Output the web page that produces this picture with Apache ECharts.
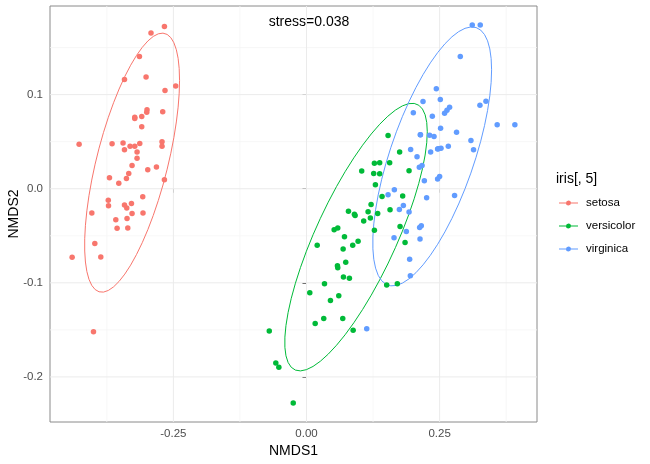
<!DOCTYPE html>
<html>
<head>
<meta charset="utf-8">
<script src="https://cdn.jsdelivr.net/npm/echarts@6/dist/echarts.min.js"></script>
<style>html,body{margin:0;padding:0;background:#fff}#c{width:650px;height:464px}</style>
</head>
<body>
<div id="c"></div>
<script>
// ---- data (NMDS1, NMDS2) ----
const groups = ['setosa', 'versicolor', 'virginica'];
const setosa = [
 [-0.2668,0.1724],[-0.2920,0.1656],[-0.3137,0.1404],[-0.3418,0.1162],[-0.3013,0.1187],
 [-0.2657,0.1045],[-0.2456,0.1091],[-0.3225,0.0760],[-0.3225,0.0746],[-0.3094,0.0768],
 [-0.2995,0.0839],[-0.3000,0.0813],[-0.2700,0.0818],[-0.3094,0.0658],[-0.4270,0.0472],
 [-0.3651,0.0477],[-0.3445,0.0487],[-0.3131,0.0480],[-0.3418,0.0413],[-0.3313,0.0451],
 [-0.3225,0.0451],[-0.3182,0.0391],[-0.2713,0.0498],[-0.2713,0.0451],[-0.3182,0.0323],
 [-0.3276,0.0248],[-0.2981,0.0203],[-0.2818,0.0231],[-0.3700,0.0117],[-0.3338,0.0163],
 [-0.3381,0.0110],[-0.3525,0.0057],[-0.2668,0.0096],[-0.3075,-0.0085],[-0.3722,-0.0123],
 [-0.3718,-0.0181],[-0.3418,-0.0174],[-0.3375,-0.0206],[-0.3287,-0.0157],[-0.4031,-0.0259],
 [-0.3276,-0.0263],[-0.3070,-0.0259],[-0.3581,-0.0330],[-0.3370,-0.0317],[-0.3557,-0.0419],
 [-0.3356,-0.0416],[-0.3975,-0.0583],[-0.4401,-0.0728],[-0.3863,-0.0725],[-0.4000,-0.1521]
];
const versicolor = [
 [0.1532,0.0565],[0.1749,0.0391],[0.1275,0.0270],[0.1374,0.0277],[0.1562,0.0277],
 [0.1037,0.0189],[0.1262,0.0163],[0.1374,0.0160],[0.1926,0.0192],[0.1294,0.0043],
 [0.1419,-0.0082],[0.1806,-0.0078],[0.0788,-0.0238],[0.0900,-0.0270],[0.0913,-0.0285],
 [0.1157,-0.0245],[0.1213,-0.0167],[0.1337,-0.0263],[0.1569,-0.0224],[0.1074,-0.0344],
 [0.1200,-0.0312],[0.1757,-0.0402],[0.1275,-0.0440],[0.0519,-0.0437],[0.0587,-0.0416],
 [0.0713,-0.0509],[0.0969,-0.0558],[0.0868,-0.0600],[0.0201,-0.0600],[0.0688,-0.0640],
 [0.1851,-0.0572],[0.0737,-0.0781],[0.0581,-0.0818],[0.0587,-0.0839],[0.0694,-0.0938],
 [0.0806,-0.0952],[0.0338,-0.1010],[0.1506,-0.1023],[0.1706,-0.1010],[0.0062,-0.1106],
 [0.0450,-0.1187],[0.0606,-0.1138],[0.0163,-0.1432],[0.0324,-0.1378],[0.0681,-0.1378],
 [0.0876,-0.1503],[-0.0699,-0.1511],[-0.0576,-0.1852],[-0.0519,-0.1898],[-0.0249,-0.2278]
];
const virginica = [
 [0.3113,0.1741],[0.3263,0.1741],[0.2888,0.1404],[0.2438,0.1063],[0.2188,0.0928],
 [0.2513,0.0949],[0.2687,0.0867],[0.2638,0.0835],[0.2593,0.0803],[0.3257,0.0888],
 [0.3370,0.0931],[0.2006,0.0807],[0.2363,0.0771],[0.2518,0.0643],[0.2818,0.0600],
 [0.3581,0.0679],[0.3913,0.0679],[0.2138,0.0573],[0.2312,0.0568],[0.2395,0.0554],
 [0.3088,0.0512],[0.3137,0.0413],[0.1956,0.0416],[0.2331,0.0391],[0.2462,0.0423],
 [0.2526,0.0430],[0.2663,0.0451],[0.2076,0.0341],[0.2170,0.0248],[0.2119,0.0227],
 [0.2213,0.0085],[0.2500,0.0131],[0.2462,0.0103],[0.2781,-0.0071],[0.1650,-0.0011],
 [0.1532,-0.0064],[0.2256,-0.0096],[0.1819,-0.0178],[0.1744,-0.0221],[0.1926,-0.0248],
 [0.2156,-0.0394],[0.2125,-0.0413],[0.1644,-0.0522],[0.2132,-0.0533],[0.1937,-0.0749],
 [0.1950,-0.0924],[0.1875,-0.0455],[0.1131,-0.1489],[0.2475,0.0425],[0.2140,0.0575]
];
const xTicks = [-0.25, 0, 0.25];
const xMinor = [-0.375, -0.125, 0.125, 0.375];
const yTicks = [-0.2, -0.1, 0, 0.1];
const yMinor = [-0.15, -0.05, 0.05, 0.15];
const stressLabel = 'stress=0.038';
const legendTitle = 'iris[, 5]';
const colors = ['#F8766D', '#00BA38', '#619CFF'];

// ---- stat_ellipse (type "t", level 0.95) ----
function covTrob(pts, nu) {
  const n = pts.length, p = 2;
  let loc = [0,0];
  pts.forEach(q => { loc[0] += q[0]/n; loc[1] += q[1]/n; });
  let w = new Array(n).fill(1), X;
  for (let it = 0; it < 25; it++) {
    const w0 = w.slice();
    X = pts.map(q => [q[0]-loc[0], q[1]-loc[1]]);
    const sw = w.reduce((a,b)=>a+b,0);
    let a=0,b=0,c=0;
    X.forEach((v,i)=>{ a+=w[i]*v[0]*v[0]/sw; b+=w[i]*v[0]*v[1]/sw; c+=w[i]*v[1]*v[1]/sw; });
    const det = a*c-b*b;
    const Q = X.map(v => (c*v[0]*v[0] - 2*b*v[0]*v[1] + a*v[1]*v[1])/det);
    w = Q.map(q => (nu+p)/(nu+q));
    const sw2 = w.reduce((s,t)=>s+t,0);
    loc = [0,0];
    pts.forEach((q,i)=>{ loc[0]+=w[i]*q[0]/sw2; loc[1]+=w[i]*q[1]/sw2; });
    if (w.every((v,i)=>Math.abs(v-w0[i])<0.01)) break;
  }
  let a=0,b=0,c=0;
  X.forEach((v,i)=>{ a+=w[i]*v[0]*v[0]/n; b+=w[i]*v[0]*v[1]/n; c+=w[i]*v[1]*v[1]/n; });
  return {center: loc, cov: [a,b,c]};
}
function ellipse(pts) {
  const n = pts.length, dfn = 2, dfd = n - 1, level = 0.95;
  const fq = dfd/2 * (Math.pow(1-level, -2/dfd) - 1); // qf for dfn = 2
  const r = Math.sqrt(dfn * fq);
  const {center, cov} = covTrob(pts, 5);
  const A = Math.sqrt(cov[0]), B = cov[1]/A, C = Math.sqrt(cov[2]-B*B);
  const out = [], seg = 51;
  for (let i = 0; i <= seg; i++) {
    const t = i*2*Math.PI/seg, ct = Math.cos(t), st = Math.sin(t);
    out.push([center[0] + r*ct*A, center[1] + r*(ct*B + st*C)]);
  }
  return out;
}

const all = setosa.concat(versicolor, virginica);
const xs = all.map(p=>p[0]), ys = all.map(p=>p[1]);
const xr = [Math.min(...xs), Math.max(...xs)], yr = [Math.min(...ys), Math.max(...ys)];
const xMin = xr[0] - 0.05*(xr[1]-xr[0]), xMax = xr[1] + 0.05*(xr[1]-xr[0]);
const yMin = yr[0] - 0.05*(yr[1]-yr[0]), yMax = yr[1] + 0.05*(yr[1]-yr[0]);

const dataSets = [setosa, versicolor, virginica];
const font = 'Liberation Sans, Arial, sans-serif';
const series = [];
// panel grid lines (minor first, then major), drawn as plain line series under the points
function gridLine(v, isX, major) {
  series.push({
    type: 'line', silent: true, z: 0, symbol: 'none', showSymbol: false,
    data: isX ? [[v, yMin], [v, yMax]] : [[xMin, v], [xMax, v]],
    lineStyle: {color: major ? '#ebebeb' : '#f5f5f5', width: major ? 1 : 0.8}
  });
}
xMinor.forEach(v => gridLine(v, true, false));
yMinor.forEach(v => gridLine(v, false, false));
xTicks.forEach(v => gridLine(v, true, true));
yTicks.forEach(v => gridLine(v, false, true));

groups.forEach((g,i)=>{
  series.push({
    name: g + '_ellipse', type: 'line', data: ellipse(dataSets[i]), showSymbol: false,
    symbol: 'none', z: 2, lineStyle: {color: colors[i], width: 1}, clip: true
  });
});
groups.forEach((g,i)=>{
  series.push({
    name: g, type: 'scatter', data: dataSets[i], symbolSize: 5.5, z: 3,
    itemStyle: {color: colors[i], opacity: 1}
  });
});

const keyIcon = 'path://M0,2.6H19V3.4H0Z M9.5,0.5A2.5,2.5 0 1 1 9.49,0.5Z';
const chart = echarts.init(document.getElementById('c'), null, {renderer: 'canvas'});
chart.setOption({
  animation: false,
  backgroundColor: '#fff',
  grid: {left: 50, top: 6, width: 487, height: 416, containLabel: false, outerBoundsMode: 'none',
         show: true, borderColor: '#8a8a8a', borderWidth: 1, backgroundColor: 'transparent'},
  xAxis: {
    type: 'value', min: xMin, max: xMax, scale: true,
    axisLine: {show: false}, splitLine: {show: false},
    axisTick: {show: true, customValues: xTicks, length: 4, lineStyle: {color: '#333'}},
    axisLabel: {customValues: xTicks, formatter: v => v.toFixed(2), color: '#4d4d4d', fontSize: 11.5, fontFamily: font, margin: 6},
    name: 'NMDS1', nameLocation: 'middle', nameGap: 22, nameMoveOverlap: false,
    nameTextStyle: {fontSize: 14, color: '#000', fontFamily: font}
  },
  yAxis: {
    type: 'value', min: yMin, max: yMax, scale: true,
    axisLine: {show: false}, splitLine: {show: false},
    axisTick: {show: true, customValues: yTicks, length: 4, lineStyle: {color: '#333'}},
    axisLabel: {customValues: yTicks, formatter: v => v.toFixed(1), color: '#4d4d4d', fontSize: 11.5, fontFamily: font, margin: 7},
    name: 'NMDS2', nameLocation: 'middle', nameGap: 29, nameMoveOverlap: false,
    nameTextStyle: {fontSize: 14, color: '#000', fontFamily: font}
  },
  legend: {
    orient: 'vertical', left: 554, top: 191, itemWidth: 19, itemHeight: 5, itemGap: 9,
    selectedMode: false,
    textStyle: {fontSize: 11.5, color: '#000', fontFamily: font, lineHeight: 14, padding: [0,0,0,3]},
    data: groups.map((g,i)=>({name: g, icon: keyIcon, itemStyle: {color: colors[i]}}))
  },
  graphic: [
    {type: 'text', x: 309, y: 22, style: {text: stressLabel, font: '14px ' + font, fill: '#000', textAlign: 'center', textVerticalAlign: 'middle'}},
    {type: 'text', x: 556, y: 179, style: {text: legendTitle, font: '14px ' + font, fill: '#000', textAlign: 'left', textVerticalAlign: 'middle'}}
  ],
  series: series
});
</script>
</body>
</html>
